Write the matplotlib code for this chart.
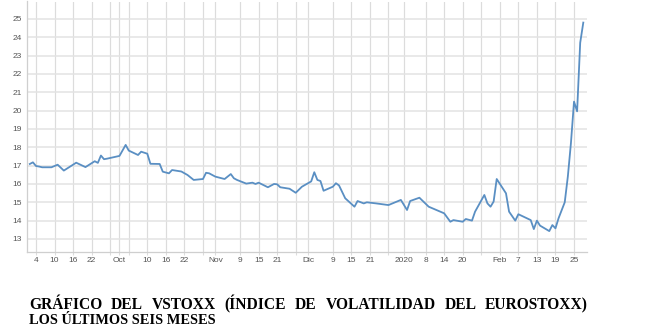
import matplotlib
matplotlib.use("Agg")
import matplotlib.pyplot as plt
import matplotlib.dates as mdates

# VSTOXX closes (Sep 2019 - Feb 2020)
dates = [
    "2019-09-02", "2019-09-03", "2019-09-04", "2019-09-05", "2019-09-06", "2019-09-09",
    "2019-09-11", "2019-09-13", "2019-09-17", "2019-09-20", "2019-09-23", "2019-09-24",
    "2019-09-25", "2019-09-26", "2019-09-27", "2019-10-01", "2019-10-03", "2019-10-04",
    "2019-10-07", "2019-10-08", "2019-10-10", "2019-10-11", "2019-10-14", "2019-10-15",
    "2019-10-17", "2019-10-18", "2019-10-21", "2019-10-23", "2019-10-25", "2019-10-28",
    "2019-10-29", "2019-10-30", "2019-11-01", "2019-11-04", "2019-11-06", "2019-11-07",
    "2019-11-08", "2019-11-11", "2019-11-13", "2019-11-14", "2019-11-15", "2019-11-18",
    "2019-11-20", "2019-11-21", "2019-11-22", "2019-11-25", "2019-11-27", "2019-11-29",
    "2019-12-02", "2019-12-03", "2019-12-04", "2019-12-05", "2019-12-06", "2019-12-09",
    "2019-12-10", "2019-12-11", "2019-12-13", "2019-12-16", "2019-12-17", "2019-12-19",
    "2019-12-20", "2019-12-23", "2019-12-27", "2019-12-31", "2020-01-02", "2020-01-03",
    "2020-01-06", "2020-01-09", "2020-01-14", "2020-01-16", "2020-01-17", "2020-01-20",
    "2020-01-21", "2020-01-23", "2020-01-24", "2020-01-27", "2020-01-28", "2020-01-29",
    "2020-01-30", "2020-01-31", "2020-02-03", "2020-02-04", "2020-02-06", "2020-02-07",
    "2020-02-11", "2020-02-12", "2020-02-13", "2020-02-14", "2020-02-17", "2020-02-18",
    "2020-02-19", "2020-02-20", "2020-02-22", "2020-02-23", "2020-02-24", "2020-02-25",
    "2020-02-26", "2020-02-27", "2020-02-28",
]
values = [
    17.09, 17.18, 16.98, 16.95, 16.91, 16.91,
    17.05, 16.73, 17.16, 16.92, 17.24, 17.15,
    17.55, 17.35, 17.38, 17.53, 18.13, 17.82,
    17.58, 17.76, 17.65, 17.10, 17.09, 16.67,
    16.58, 16.76, 16.68, 16.49, 16.22, 16.27,
    16.61, 16.58, 16.40, 16.27, 16.54, 16.31,
    16.22, 16.02, 16.07, 16.00, 16.07, 15.82,
    16.00, 15.98, 15.82, 15.74, 15.52, 15.85,
    16.14, 16.64, 16.22, 16.16, 15.63, 15.85,
    16.04, 15.92, 15.22, 14.76, 15.07, 14.94,
    15.00, 14.94, 14.85, 15.13, 14.58, 15.07,
    15.25, 14.76, 14.40, 13.94, 14.03, 13.94,
    14.09, 14.00, 14.49, 15.40, 14.94, 14.76,
    15.04, 16.27, 15.49, 14.49, 14.00, 14.35,
    14.03, 13.54, 14.00, 13.73, 13.43, 13.76,
    13.58, 14.13, 15.00, 16.40, 18.22, 20.49,
    19.96, 23.70, 24.80,
]

# grid / tick positions and their labels ("" = grid line without label)
tick_dates = [
    "2019-09-04", "2019-09-10", "2019-09-16", "2019-09-22", "2019-09-28", "2019-10-01",
    "2019-10-04", "2019-10-10", "2019-10-16", "2019-10-22", "2019-10-28", "2019-11-01",
    "2019-11-09", "2019-11-15", "2019-11-21", "2019-11-27", "2019-12-01", "2019-12-09",
    "2019-12-15", "2019-12-21", "2019-12-27", "2020-01-01", "2020-01-08", "2020-01-14",
    "2020-01-20", "2020-01-26", "2020-02-01", "2020-02-07", "2020-02-13", "2020-02-19",
    "2020-02-25",
]
tick_labels = [
    "4", "10", "16", "22", "", "Oct",
    "", "10", "16", "22", "", "Nov",
    "9", "15", "21", "", "Dic", "9",
    "15", "21", "", "2020", "8", "14",
    "20", "", "Feb", "7", "13", "19",
    "25",
]
y_ticks = [13, 14, 15, 16, 17, 18, 19, 20, 21, 22, 23, 24, 25]

title_line1 = "GRÁFICO DEL VSTOXX (ÍNDICE DE VOLATILIDAD DEL EUROSTOXX)"
title_line2 = "LOS ÚLTIMOS SEIS MESES"

W, H = 672, 326
fig = plt.figure(figsize=(W / 100, H / 100), dpi=100)
ax = fig.add_axes([27 / W, 1 - 252 / H, 560 / W, 250.5 / H])

x = mdates.datestr2num(dates)
ax.plot(x, values, color="#5a8fc3", lw=1.3, solid_joinstyle="round", zorder=3)

t0 = mdates.datestr2num("2019-09-04")
ax.set_xlim(t0 - 2.91, t0 + 178.2)
ax.set_ylim(12.29, 25.95)

ax.set_xticks(mdates.datestr2num(tick_dates))
ax.set_xticklabels(tick_labels)
ax.set_yticks(y_ticks)
ax.set_yticklabels([str(v) for v in y_ticks])

ax.grid(True, axis="x", color="#dcdcdc", lw=0.85)
ax.grid(True, axis="y", color="#e3e3e3", lw=1.1)
ax.set_axisbelow(True)

for s in ["top", "right"]:
    ax.spines[s].set_visible(False)
for s in ["left", "bottom"]:
    ax.spines[s].set_color("#cfcfcf")
    ax.spines[s].set_linewidth(0.9)

ax.tick_params(axis="x", length=2, width=0.8, color="#dcdcdc", pad=1.5,
               labelsize=6, labelcolor="#555555")
ax.tick_params(axis="y", length=0, pad=3.5, labelsize=6, labelcolor="#555555")
for lab in ax.get_xticklabels() + ax.get_yticklabels():
    lab.set_family("Liberation Sans")

# caption below the chart, first line justified
font1 = dict(family="Liberation Serif", weight="bold", size=11.2, color="black")
font2 = dict(family="Liberation Serif", weight="bold", size=10.4, color="black")
left_px, right_px = 29, 588
words = title_line1.split(" ")
texts = [fig.text(0, 1 - 309 / H, w, va="baseline", ha="left", **font1) for w in words]
fig.canvas.draw()
r = fig.canvas.get_renderer()
widths = [t.get_window_extent(renderer=r).width for t in texts]
gap = (right_px - left_px - sum(widths)) / (len(words) - 1)
pos = left_px
for t, w in zip(texts, widths):
    t.set_x(pos / W)
    pos += w + gap
fig.text(left_px / W, 1 - 323.5 / H, title_line2, va="baseline", ha="left", **font2)

fig.savefig("out.png", dpi=100)
